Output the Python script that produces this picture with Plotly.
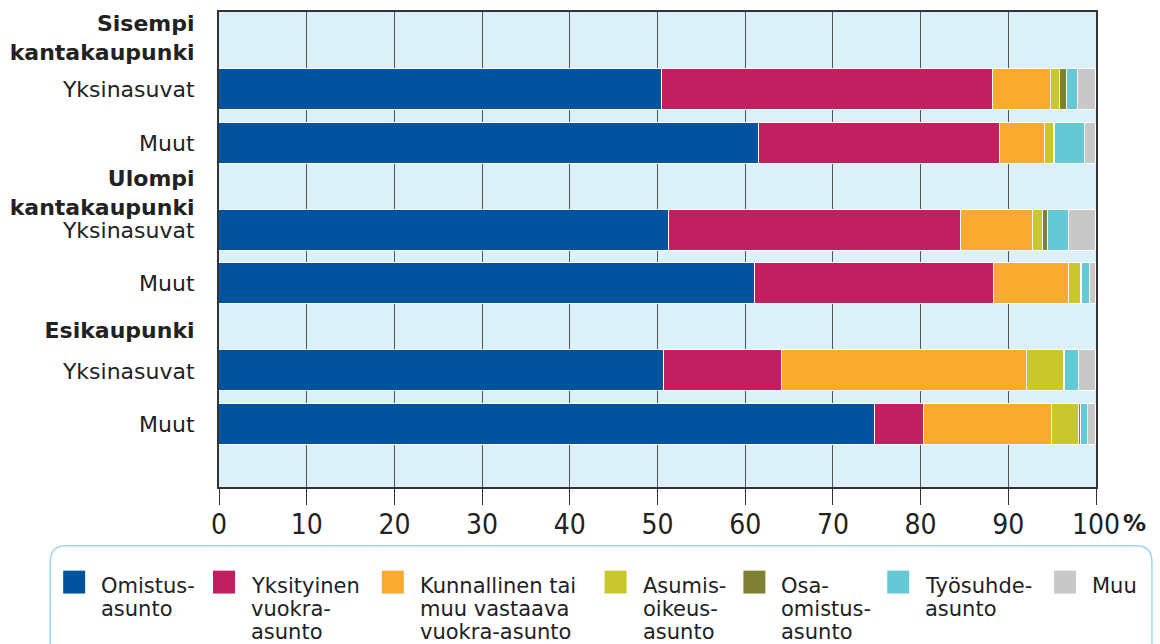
import plotly.graph_objects as go

# Alueet ja ryhmät
ALUEET = ["Sisempi<br>kantakaupunki", "Ulompi<br>kantakaupunki", "Esikaupunki"]
RYHMAT = ["Yksinasuvat", "Muut"]

# Osuudet (%) järjestyksessä: Sis-Yks, Sis-Muut, Ulo-Yks, Ulo-Muut, Esi-Yks, Esi-Muut
OMISTUS     = [50.5, 61.6, 51.3, 61.1, 50.7, 74.8]
YKSITYINEN  = [37.7, 27.5, 33.3, 27.3, 13.5, 5.6]
KUNNALLINEN = [6.7, 5.1, 8.2, 8.5, 27.9, 14.6]
ASUMISOIK   = [1.0, 1.0, 1.2, 1.4, 4.2, 3.1]
OSAOMISTUS  = [0.8, 0.1, 0.5, 0.1, 0.2, 0.2]
TYOSUHDE    = [1.3, 3.4, 2.4, 0.9, 1.6, 0.8]
MUU         = [2.0, 1.3, 3.1, 0.7, 1.9, 0.9]

SARJAT = [
    (["Omistus-", "asunto"], OMISTUS, "#00539f"),
    (["Yksityinen", "vuokra-", "asunto"], YKSITYINEN, "#c21f60"),
    (["Kunnallinen tai", "muu vastaava", "vuokra-asunto"], KUNNALLINEN, "#fbaa30"),
    (["Asumis-", "oikeus-", "asunto"], ASUMISOIK, "#c8c82c"),
    (["Osa-", "omistus-", "asunto"], OSAOMISTUS, "#7f8033"),
    (["Työsuhde-", "asunto"], TYOSUHDE, "#62c9d5"),
    (["Muu"], MUU, "#c8c8c9"),
]

X_TICKS = list(range(0, 101, 10))

# Asettelu
GROUP_STEP = 2.64
HEADER_POS = [0.49, 3.40, 5.98]
Y_RANGE = [8.92, 0]
LEG_X = [62, 212, 381, 604, 743, 887, 1054]   # selitteen neliöiden vasen reuna (px)

W, H = 1160, 644
PL, PR, PT, PB = 218, 1096, 10, 487
FONT = "DejaVu Sans"


def px(x):
    return (x - PL) / (PR - PL)


def py(y):
    return (PB - y) / (PB - PT)


# palkkien paikat
pos = []
labels = []
for g in range(len(ALUEET)):
    for j, r in enumerate(RYHMAT):
        pos.append(g * GROUP_STEP + 1.46 + j)
        labels.append(r)

fig = go.Figure()
for nimi, arvot, vari in SARJAT:
    fig.add_trace(go.Bar(
        x=arvot, y=pos, orientation="h", name=" ".join(nimi),
        marker=dict(color=vari, line=dict(color="white", width=1.5)),
        width=0.77, showlegend=False,
        hovertemplate="%{x:.1f} %<extra>" + " ".join(nimi) + "</extra>",
    ))

tickvals = pos + HEADER_POS
ticktext = labels + [f"<b>{a}</b>" for a in ALUEET]

fig.update_xaxes(
    range=[0, 100], tickvals=X_TICKS, ticks="outside", ticklen=16,
    tickwidth=1.3, tickcolor="#333", ticklabelstandoff=-5,
    tickfont=dict(family="Liberation Sans Narrow, DejaVu Sans Condensed, sans-serif",
                  size=28, color="#222"),
    showgrid=True, gridcolor="#555", gridwidth=1.3,
    showline=True, linecolor="#333", linewidth=2, mirror=True, zeroline=False,
)
fig.update_yaxes(
    range=Y_RANGE, tickvals=tickvals, ticktext=ticktext, ticks="",
    ticklabelstandoff=18,
    tickfont=dict(family=FONT, size=22, color="#222"),
    showgrid=False, showline=True, linecolor="#333", linewidth=2, mirror=True,
    zeroline=False,
)

# "%"-merkki akselin perään
fig.add_annotation(
    text="<b>%</b>", xref="paper", yref="paper", x=px(1121), y=py(523),
    xanchor="left", yanchor="middle", showarrow=False,
    font=dict(family=FONT, size=23, color="#222"),
)

# Selite: pyöristetty kehys
r = 16
x0, x1, y0, y1 = 49, 1152, 546, 680
path = (
    f"M {px(x0 + r)},{py(y0)} L {px(x1 - r)},{py(y0)} "
    f"Q {px(x1)},{py(y0)} {px(x1)},{py(y0 + r)} "
    f"L {px(x1)},{py(y1)} L {px(x0)},{py(y1)} L {px(x0)},{py(y0 + r)} "
    f"Q {px(x0)},{py(y0)} {px(x0 + r)},{py(y0)} Z"
)
fig.add_shape(type="path", path=path, xref="paper", yref="paper",
              line=dict(color="#9fd8ee", width=1.5), fillcolor="white", layer="above")

for (nimi, _, vari), lx in zip(SARJAT, LEG_X):
    fig.add_shape(type="rect", xref="paper", yref="paper",
                  x0=px(lx), x1=px(lx + 22), y0=py(571), y1=py(594),
                  fillcolor=vari, line=dict(width=0), layer="above")
    for k, rivi in enumerate(nimi):
        fig.add_annotation(
            text=rivi, xref="paper", yref="paper",
            x=px(lx + 36), y=py(586 + 23.5 * k),
            xanchor="left", yanchor="middle", showarrow=False,
            font=dict(family=FONT, size=21, color="#222"),
        )

fig.update_layout(
    width=W, height=H, autosize=False,
    barmode="stack", bargap=0,
    plot_bgcolor="#dcf0f7", paper_bgcolor="white",
    margin=dict(l=PL, r=W - PR, t=PT, b=H - PB),
    font=dict(family=FONT, color="#222"),
    showlegend=False,
)

# selaimen oletusmarginaali pois, jotta kuva alkaa vasemmasta yläkulmasta
fig.write_html("out.html", config={"displayModeBar": False},
               post_script="document.body.style.margin='0';")
